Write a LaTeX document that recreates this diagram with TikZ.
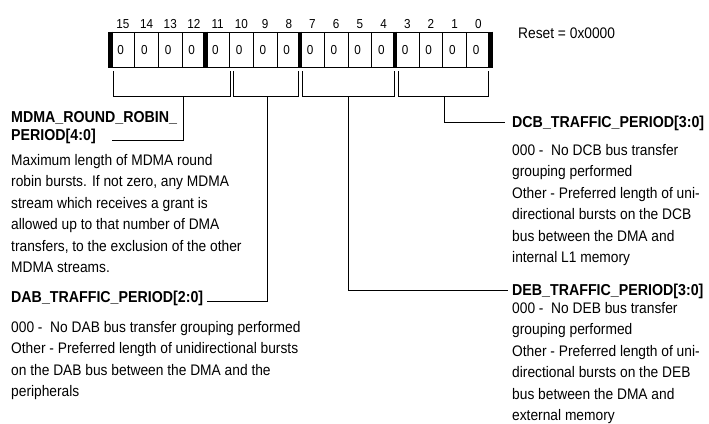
\documentclass[tikz,border=0pt]{standalone}
\usepackage{fontspec}
\setmainfont{Liberation Sans}[FakeStretch=0.9]
\usepackage{tikz}

\begin{document}
\begin{tikzpicture}[x=1pt,y=-1pt]
\tikzset{cell/.style = {draw,line width=0.8pt,minimum width=23.7pt,minimum height=35.5pt,inner sep=0pt,text width=11pt,align=left,font=\fontsize{13}{13}\selectfont}}
\tikzset{bitnum/.style = {inner sep=0pt,anchor=base,font=\fontsize{13}{13}\selectfont}}
\tikzset{head/.style = {inner sep=0pt,anchor=base west,align=left,font=\bfseries\fontsize{15.8}{18}\selectfont}}
\tikzset{desc/.style = {inner sep=0pt,anchor=base west,align=left,font=\fontsize{15.3}{21.4}\selectfont}}
\tikzset{edge/.style = {-,line width=1pt}}
\tikzset{sep/.style = {line width=4.5pt}}
\useasboundingbox (0,0) rectangle (709,423);

% register cells and bit numbers
\foreach \b in {0,...,15} {
  \node[cell] (c\b) at ({111+(15.5-\b)*23.7},49.75) {0};
  \node[bitnum] (n\b) at ({111+(15.5-\b)*23.7},28) {\b};
}
\foreach \b in {15,11,7,3} \draw[sep] (c\b.north west) -- (c\b.south west);
\draw[sep] (c0.north east) -- (c0.south east);

\node[desc] (reset) at (518,38.5) {Reset = 0x0000};

% field brackets
\foreach \f/\l/\r/\s in {mdma/113/230/183, dab/233/298/267, deb/302.5/394/348, dcb/398/488/444} {
  \draw[edge] (\l,71) |- (\r,96) -- (\r,71);
  \coordinate (\f) at (\s,96);
}

% field texts (base = last line)
\node[head] (mdmahead) at (11,140) {MDMA\_ROUND\_ROBIN\_\\PERIOD[4:0]};
\node[desc] (mdmadesc) at (11,272.5) {Maximum length of MDMA round\\robin bursts. If not zero, any MDMA\\stream which receives a grant is\\allowed up to that number of DMA\\transfers, to the exclusion of the other\\MDMA streams.};
\node[head] (dabhead) at (11,302) {DAB\_TRAFFIC\_PERIOD[2:0]};
\node[desc] (dabdesc) at (11,396.5) {000 -\ \ No DAB bus transfer grouping performed\\Other - Preferred length of unidirectional bursts\\on the DAB bus between the DMA and the\\peripherals};
\node[head] (dcbhead) at (512,127) {DCB\_TRAFFIC\_PERIOD[3:0]};
\node[desc] (dcbdesc) at (512,262.5) {000 -\ \ No DCB bus transfer\\grouping performed\\Other - Preferred length of uni-\\directional bursts on the DCB\\bus between the DMA and\\internal L1 memory};
\node[head] (debhead) at (512,295) {DEB\_TRAFFIC\_PERIOD[3:0]};
\node[desc] (debdesc) at (512,420.5) {000 -\ \ No DEB bus transfer\\grouping performed\\Other - Preferred length of uni-\\directional bursts on the DEB\\bus between the DMA and\\external memory};

% connectors
\coordinate (mdmaend) at (112,140);
\coordinate (dabend) at (207,301);
\coordinate (debend) at (508,290);
\coordinate (dcbend) at (505,122);
\draw[edge] (mdma) |- (mdmaend);
\draw[edge] (dab) |- (dabend);
\draw[edge] (deb) |- (debend);
\draw[edge] (dcb) |- (dcbend);
\end{tikzpicture}
\end{document}
